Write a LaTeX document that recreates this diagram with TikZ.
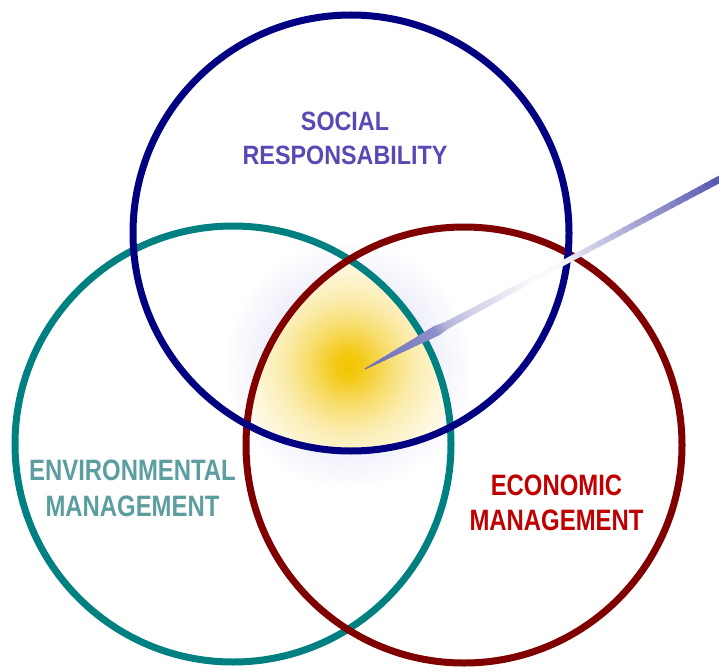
\documentclass[tikz,border=0pt]{standalone}
\usepackage{fontspec}
\setmainfont{Liberation Sans}
\newfontfamily\socfont[FakeStretch=0.88]{Liberation Sans}
\newfontfamily\mgmtfont[FakeStretch=0.81]{Liberation Sans}
\usetikzlibrary{calc}

% ring and label colours
\definecolor{socring}{RGB}{0,0,128}
\definecolor{envring}{RGB}{0,128,128}
\definecolor{ecoring}{RGB}{128,0,0}
\definecolor{soctext}{RGB}{88,74,180}
\definecolor{envtext}{RGB}{92,158,160}
\definecolor{ecotext}{RGB}{192,0,0}
\definecolor{glowyellow}{RGB}{242,196,0}
\definecolor{haze}{RGB}{236,236,250}
\definecolor{beamblue}{RGB}{70,70,168}

% soft golden core where the three fields overlap
\pgfdeclareradialshading{coreglow}{\pgfpoint{0bp}{0bp}}{%
  color(0bp)=(glowyellow);
  color(3bp)=(glowyellow!92!white);
  color(9bp)=(glowyellow!58!white);
  color(15bp)=(glowyellow!32!white);
  color(21bp)=(glowyellow!16!white);
  color(25bp)=(glowyellow!8!white);
  color(50bp)=(white)}
% faint lavender halo around the core
\pgfdeclareradialshading{corehaze}{\pgfpoint{0bp}{0bp}}{%
  color(0bp)=(haze);
  color(15bp)=(haze);
  color(25bp)=(white);
  color(50bp)=(white)}

\tikzset{
  ring/.style={line width=7pt},
  socring/.style={ring, draw=socring},
  envring/.style={ring, draw=envring},
  ecoring/.style={ring, draw=ecoring},
  lbl/.style={align=center, inner sep=0pt, anchor=center},
}

\begin{document}
\begin{tikzpicture}[x=1pt, y=-1pt]
  \useasboundingbox (0,0) rectangle (719,671);

  % centres of the three fields
  \coordinate (csoc) at (351,233);
  \coordinate (cenv) at (233,444);
  \coordinate (ceco) at (464,445);
  \coordinate (core) at (348,365);

  % halo and golden core
  \shade[shading=corehaze] (core) circle [radius=125pt];
  \begin{scope}
    \clip (csoc) circle [radius=218pt];
    \clip (cenv) circle [radius=218pt];
    \clip (ceco) circle [radius=218pt];
    \shade[shading=coreglow] (core) circle [radius=110pt];
  \end{scope}

  % the three rings
  \draw[envring] (cenv) circle [radius=218pt];
  \draw[ecoring] (ceco) circle [radius=218pt];
  \draw[socring] (csoc) circle [radius=218pt];

  % tapered beam pointing into the core
  \coordinate (beamtip) at (365,369);
  \coordinate (beamend) at (720,179);
  \foreach \ta/\tb/\wa/\wb/\pa/\pb in {
      0/0.04/1/3/78/76,
      0.04/0.15/3/8/76/66,
      0.15/0.20/8/10.5/66/60,
      0.20/0.23/10.5/7.5/60/40,
      0.23/0.30/7.5/6.5/40/25,
      0.30/0.40/6.5/6/25/12,
      0.40/0.47/6/5.5/12/3,
      0.47/0.55/5.5/5.5/3/3,
      0.55/0.62/5.5/5.5/3/22,
      0.62/0.80/5.5/6.2/22/55,
      0.80/1.00/6.2/7/55/92}{
    \foreach \k in {0,...,9}{
      \pgfmathsetmacro\sa{\ta+(\tb-\ta)*\k/10}
      \pgfmathsetmacro\sb{\ta+(\tb-\ta)*(\k+1.25)/10}
      \pgfmathsetmacro\w{\wa+(\wb-\wa)*(\k+0.5)/10}
      \pgfmathsetmacro\p{\pa+(\pb-\pa)*(\k+0.5)/10}
      \draw[line width=\w pt, draw=beamblue!\p!white]
        ($(beamtip)!\sa!(beamend)$) -- ($(beamtip)!\sb!(beamend)$);
    }
  }

  % labels
  \node[lbl, text=soctext, font={\socfont\bfseries\fontsize{26.5}{34}\selectfont}]
    (social) at (345,138.5) {SOCIAL\\RESPONSABILITY};
  \node[lbl, text=envtext, font={\mgmtfont\bfseries\fontsize{29.5}{36}\selectfont}]
    (environmental) at (132.5,488.5) {ENVIRONMENTAL\\MANAGEMENT};
  \node[lbl, text=ecotext, font={\mgmtfont\bfseries\fontsize{29.5}{35}\selectfont}]
    (economic) at (556.5,503) {ECONOMIC\\MANAGEMENT};
\end{tikzpicture}
\end{document}
